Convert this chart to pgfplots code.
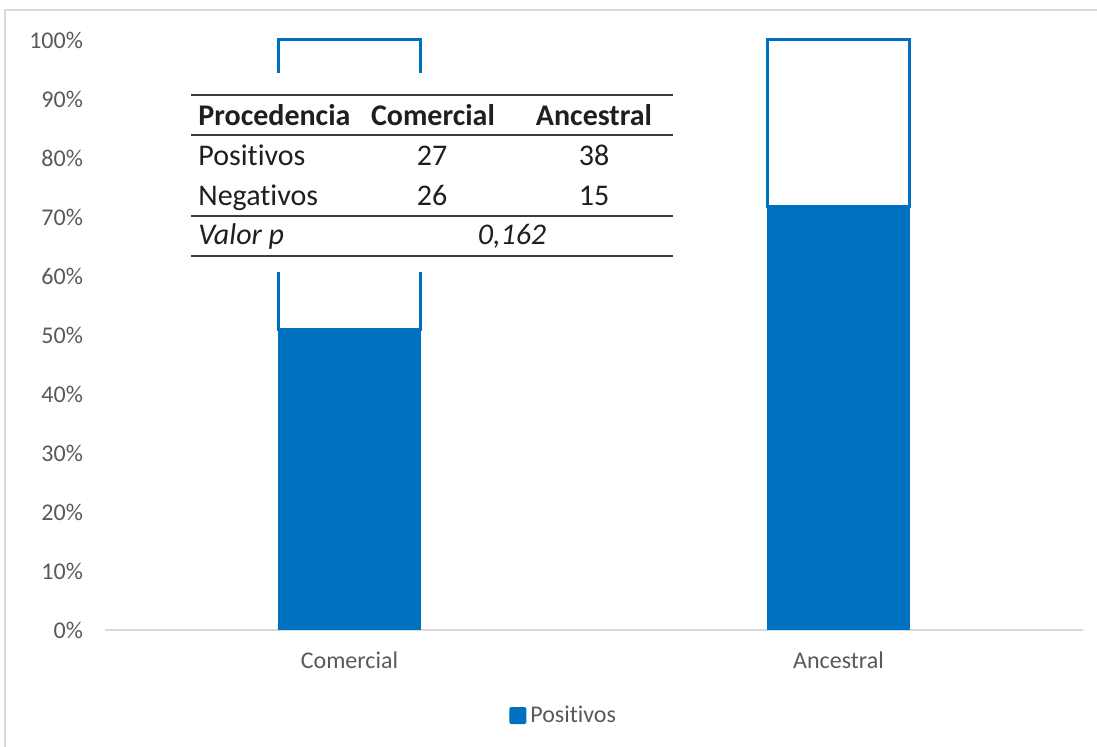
\documentclass[border=0pt]{standalone}
\usepackage{pgfplots}
\pgfplotsset{compat=1.18}
\usepackage{fontspec}
\setmainfont{Carlito}[Ligatures=NoCommon]
\definecolor{barblue}{HTML}{0070C0}
\definecolor{axisgray}{HTML}{D9D9D9}
\definecolor{labelgray}{HTML}{595959}
\definecolor{rulegray}{HTML}{3A3A3A}
\begin{document}
\begin{tikzpicture}[x=0.5pt,y=-0.5pt]
\useasboundingbox (0,0) rectangle (1097,747);
% chart frame
\begin{scope}
\clip (0,0) rectangle (1097,747);
\draw[axisgray, line width=0.9pt] (5,10) rectangle (1120,770);
\end{scope}
\begin{axis}[
  at={(52.5pt,-315pt)}, anchor=south west,
  scale only axis, width=489pt, height=295pt,
  xmin=-0.5, xmax=1.5, ymin=0, ymax=1,
  ybar stacked, bar width=71pt,
  axis lines*=left,
  y axis line style={draw=none},
  x axis line style={draw=axisgray, line width=1pt, -},
  major tick length=0pt,
  xtick={0,1}, xticklabels={Comercial,Ancestral},
  ytick={0,0.1,0.2,0.3,0.4,0.5,0.6,0.7,0.8,0.9,1},
  yticklabels={0\%,10\%,20\%,30\%,40\%,50\%,60\%,70\%,80\%,90\%,100\%},
  tick label style={font=\fontsize{12}{14}\selectfont, text=labelgray},
  yticklabel style={xshift=-7.5pt},
  xticklabel style={yshift=-7.5pt},
  legend style={at={(0.470,-0.145)}, anchor=center, draw=none, fill=none,
    font=\fontsize{12}{14}\selectfont, text=labelgray,
    legend cell align=left, inner sep=0pt},
  legend image code/.code={\fill[barblue, rounded corners=0.6pt] (0pt,-4pt) rectangle (8pt,4pt);},
  clip=false,
]
\addplot[fill=barblue, draw=barblue, line width=0.5pt] coordinates {(0,0.50943) (1,0.71698)};
\addlegendentry{Positivos}
\addplot[fill=white, draw=barblue, line width=1.5pt, forget plot] coordinates {(0,0.49057) (1,0.28302)};
\end{axis}
% contingency table
\fill[white] (188,73) rectangle (675,272);
\begin{scope}[every node/.style={font=\fontsize{15}{18}\selectfont, inner sep=0pt, text=black!88}]
\draw[rulegray, line width=1pt] (191,95) -- (673,95);
\draw[rulegray, line width=1pt] (191,135) -- (673,135);
\draw[rulegray, line width=1pt] (191,216) -- (673,216);
\draw[rulegray, line width=1pt] (191,256) -- (673,256);
\node[anchor=base west] at (198,126) {\bfseries Procedencia};
\node[anchor=base] at (433,126) {\bfseries Comercial};
\node[anchor=base] at (594,126) {\bfseries Ancestral};
\node[anchor=base west] at (198,166) {Positivos};
\node[anchor=base] at (432,166) {27};
\node[anchor=base] at (594,166) {38};
\node[anchor=base west] at (198,206) {Negativos};
\node[anchor=base] at (432,206) {26};
\node[anchor=base] at (594,206) {15};
\node[anchor=base west] at (198,245) {\itshape Valor p};
\node[anchor=base] at (512,245) {\itshape 0,162};
\end{scope}
\end{tikzpicture}
\end{document}
